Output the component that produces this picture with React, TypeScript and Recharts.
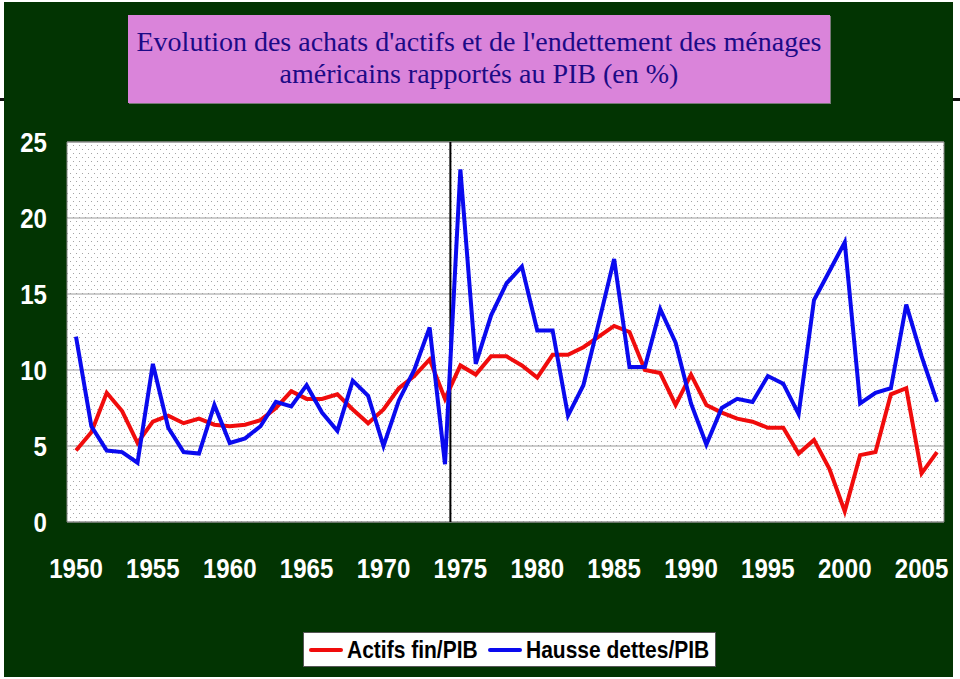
import React from "react";
import {
  LineChart,
  Line,
  XAxis,
  YAxis,
  CartesianGrid,
  ReferenceLine,
  ReferenceArea,
} from "recharts";

const years = [
  1950, 1951, 1952, 1953, 1954, 1955, 1956, 1957, 1958, 1959,
  1960, 1961, 1962, 1963, 1964, 1965, 1966, 1967, 1968, 1969,
  1970, 1971, 1972, 1973, 1974, 1975, 1976, 1977, 1978, 1979,
  1980, 1981, 1982, 1983, 1984, 1985, 1986, 1987, 1988, 1989,
  1990, 1991, 1992, 1993, 1994, 1995, 1996, 1997, 1998, 1999,
  2000, 2001, 2002, 2003, 2004, 2005, 2006,
];

// Actifs fin/PIB
const actifs = [
  4.7, 5.9, 8.5, 7.3, 5.2, 6.6, 7.0, 6.5, 6.8, 6.4,
  6.3, 6.4, 6.7, 7.5, 8.6, 8.1, 8.1, 8.4, 7.4, 6.5,
  7.4, 8.8, 9.6, 10.7, 8.1, 10.3, 9.7, 10.9, 10.9, 10.3,
  9.5, 11.0, 11.0, 11.5, 12.2, 12.9, 12.5, 10.0, 9.8, 7.7,
  9.7, 7.7, 7.2, 6.8, 6.6, 6.2, 6.2, 4.5, 5.4, 3.5,
  0.7, 4.4, 4.6, 8.4, 8.8, 3.2, 4.6,
];

// Hausse dettes/PIB
const dettes = [
  12.2, 6.3, 4.7, 4.6, 3.9, 10.4, 6.2, 4.6, 4.5, 7.7,
  5.2, 5.5, 6.3, 7.9, 7.6, 9.0, 7.2, 6.0, 9.3, 8.3,
  5.0, 8.0, 10.0, 12.8, 3.8, 23.2, 10.4, 13.6, 15.7, 16.8,
  12.6, 12.6, 7.0, 9.0, 13.1, 17.3, 10.2, 10.2, 14.0, 11.8,
  7.8, 5.1, 7.5, 8.1, 7.9, 9.6, 9.1, 7.1, 14.6, 16.5,
  18.4, 7.8, 8.5, 8.8, 14.3, 10.9, 7.9,
];

const xTicks = [1950, 1955, 1960, 1965, 1970, 1975, 1980, 1985, 1990, 1995, 2000, 2005];
const yTicks = [0, 5, 10, 15, 20, 25];
const breakYear = 1974.35;

const data = years.map((year, i) => ({
  year,
  actifs: actifs[i],
  dettes: dettes[i],
}));

const GREEN = "#023402";
const RED = "#f00c0c";
const BLUE = "#0a0aee";
const SANS = "'Liberation Sans', Arial, sans-serif";

// condensed tick text (the original uses a narrow face)
function XTick(props: any) {
  const { x, y, payload } = props;
  return (
    <g transform={`translate(${x},${y})`}>
      <text
        transform="scale(0.86,1)"
        textAnchor="middle"
        dy="0.71em"
        fill="#fff"
        fontSize={28}
        fontWeight="bold"
        fontFamily={SANS}
      >
        {payload.value}
      </text>
    </g>
  );
}

function YTick(props: any) {
  const { x, y, payload } = props;
  return (
    <g transform={`translate(${x},${y})`}>
      <text
        transform="scale(0.86,1)"
        textAnchor="end"
        dy="0.355em"
        fill="#fff"
        fontSize={28}
        fontWeight="bold"
        fontFamily={SANS}
      >
        {payload.value}
      </text>
    </g>
  );
}

function LegendBox() {
  const items = [
    { label: "Actifs fin/PIB", color: RED, gap: 11 },
    { label: "Hausse dettes/PIB", color: BLUE, gap: 0 },
  ];
  return (
    <div
      style={{
        position: "absolute",
        left: 303,
        top: 632,
        width: 413,
        height: 35,
        boxSizing: "border-box",
        display: "flex",
        alignItems: "center",
        background: "#fff",
        border: "1px solid #555",
        paddingLeft: 5,
        fontFamily: SANS,
        fontWeight: "bold",
        fontSize: 24,
        color: "#000",
        whiteSpace: "nowrap",
      }}
    >
      {items.map((it) => (
        <span key={it.label} style={{ display: "flex", alignItems: "center", marginRight: it.gap }}>
          <span
            style={{
              display: "inline-block",
              width: 34,
              height: 4,
              borderRadius: 2,
              background: it.color,
              marginRight: 4,
            }}
          />
          <span
            style={{
              display: "inline-block",
              transform: "scaleX(0.875)",
              transformOrigin: "left center",
              width: it.label.length > 15 ? 183 : 130,
            }}
          >
            {it.label}
          </span>
        </span>
      ))}
    </div>
  );
}

export default function App() {
  return (
    <div
      style={{
        position: "absolute",
        left: 0,
        top: 0,
        width: 960,
        height: 679,
        background: "#fff",
        overflow: "hidden",
      }}
    >
      <svg width={0} height={0} style={{ position: "absolute" }}>
        <defs>
          <pattern id="dots" width={6} height={8} patternUnits="userSpaceOnUse">
            <rect width={6} height={8} fill="#fff" />
            <rect x={1} y={1} width={1} height={1} fill="#a4a4a4" />
            <rect x={4} y={5} width={1} height={1} fill="#a4a4a4" />
          </pattern>
        </defs>
      </svg>

      {/* black rule behind the green panel */}
      <div style={{ position: "absolute", left: 0, top: 98, width: 960, height: 3, background: "#111" }} />
      <div style={{ position: "absolute", left: 4, top: 2, width: 949, height: 675, background: GREEN }} />

      {/* title box */}
      <div
        style={{
          position: "absolute",
          left: 128,
          top: 15,
          width: 702,
          height: 88,
          background: "#da84da",
          boxShadow: "1px 1px 0 #777",
          color: "#1c0a86",
          fontFamily: "'Liberation Serif', 'Times New Roman', serif",
          fontSize: 28,
          lineHeight: "32px",
          textAlign: "center",
          paddingTop: 11,
          boxSizing: "border-box",
          whiteSpace: "nowrap",
        }}
      >
        Evolution des achats d'actifs et de l'endettement des ménages
        <br />
        américains rapportés au PIB (en %)
      </div>

      <div style={{ position: "absolute", left: 0, top: 0 }}>
        <LineChart
          width={960}
          height={679}
          data={data}
          margin={{ top: 142, right: 16, bottom: 97, left: 0 }}
        >
          <CartesianGrid
            vertical={false}
            stroke="#9a9a9a"
            strokeWidth={1}
            fill="url(#dots)"
            fillOpacity={1}
          />
          <XAxis
            dataKey="year"
            type="number"
            domain={[1949.415, 2006.455]}
            ticks={xTicks}
            axisLine={false}
            tickLine={false}
            tickSize={0}
            tickMargin={36}
            height={60}
            interval={0}
            tick={<XTick />}
          />
          <YAxis
            domain={[0, 25]}
            ticks={yTicks}
            axisLine={false}
            tickLine={false}
            tickSize={0}
            tickMargin={20}
            width={67}
            interval={0}
            tick={<YTick />}
          />
          <ReferenceArea
            x1={1949.415}
            x2={2006.455}
            y1={0}
            y2={25}
            fill="none"
            stroke="#8a8a8a"
            strokeWidth={1}
            ifOverflow="visible"
          />
          <ReferenceLine x={breakYear} stroke="#000" strokeWidth={2} />
          <Line
            type="linear"
            dataKey="actifs"
            name="Actifs fin/PIB"
            stroke={RED}
            strokeWidth={4}
            dot={false}
            isAnimationActive={false}
          />
          <Line
            type="linear"
            dataKey="dettes"
            name="Hausse dettes/PIB"
            stroke={BLUE}
            strokeWidth={4}
            dot={false}
            isAnimationActive={false}
          />
        </LineChart>
      </div>

      <LegendBox />
    </div>
  );
}
